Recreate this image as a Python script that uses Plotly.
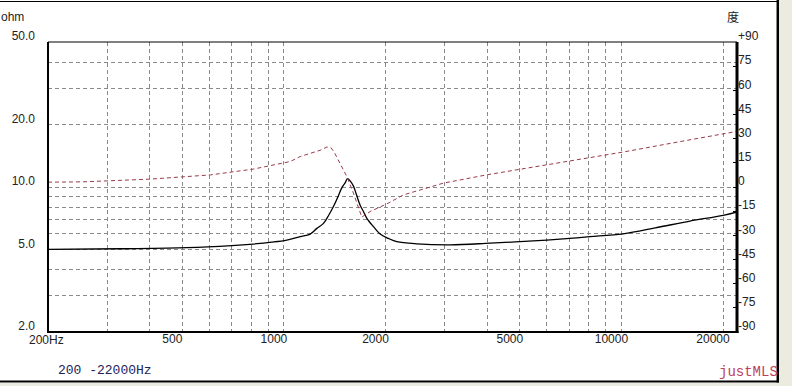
import numpy as np
import plotly.graph_objects as go

# ---- data ----
imp_freq = [200, 327, 516, 700, 811, 920, 1020, 1117, 1196, 1250, 1310, 1360, 1402, 1440, 1484,
            1520, 1543, 1575, 1607, 1640, 1682, 1720, 1761, 1842, 1928, 2040, 2160, 2476, 3108,
            4080, 5000, 6008, 7000, 8070, 10120, 12600, 15960, 20000, 22000]
imp_ohm = [5.0, 5.04, 5.10, 5.22, 5.31, 5.42, 5.55, 5.76, 5.93, 6.3, 6.68, 7.35, 8.05, 8.84, 9.9,
           10.5, 10.97, 10.65, 10.1, 9.2, 8.17, 7.62, 7.06, 6.44, 5.93, 5.65, 5.45, 5.32, 5.26,
           5.36, 5.45, 5.55, 5.65, 5.76, 5.95, 6.35, 6.85, 7.3, 7.58]

ph_freq = [200, 255, 402, 605, 811, 1044, 1117, 1200, 1280, 1340, 1380, 1410, 1467, 1536,
           1607, 1663, 1701, 1801, 2018, 2260, 2532, 2968, 3990, 6008, 8070, 10120, 15960, 22000]
ph_deg = [3.0, 3.2, 4.9, 7.5, 11.1, 15.8, 18.9, 21.2, 22.8, 24.8, 24.3, 21.5, 14.8, 6.5,
          -3.8, -13.1, -18.7, -15.2, -10.5, -4.9, -1.8, 2.4, 7.55, 13.8, 18.3, 21.7, 29.3, 34.5]

x_tick_vals = [500, 1000, 2000, 5000, 10000, 20000]
x_tick_text = ["500", "1000", "2000", "5000", "10000", "20000"]
x_minor_vals = [300, 400, 600, 700, 800, 900, 3000, 4000, 6000, 7000, 8000, 9000]

y_tick_vals = [2, 5, 10, 20, 50]
y_tick_text = ["2.0", "5.0", "10.0", "20.0", "50.0"]
y_minor_vals = [3, 4, 6, 7, 8, 9, 30, 40]

ph_tick_vals = [-90, -75, -60, -45, -30, -15, 0, 15, 30, 45, 60, 75, 90]
ph_tick_text = ["-90", "-75", "-60", "-45", "-30", "-15", "0", "15", "30", "45", "60", "75", "+90"]

# ---- layout geometry (pixels) ----
W, H = 792, 386
L, R, T, B = 48, 737, 42, 332
PW, PH = R - L, B - T


def px(X):
    return (X - L) / PW


def py(Y):
    return (B - Y) / PH


GRID = "#8a8a8a"
GDASH = "4px,3px"
LBL = dict(family="Liberation Sans, Arial, sans-serif", size=12, color="#222222")

fig = go.Figure()
fig.add_trace(go.Scatter(x=imp_freq, y=imp_ohm, mode="lines",
                         line=dict(color="black", width=1.3, shape="spline", smoothing=1.0),
                         showlegend=False, hoverinfo="skip"))
fig.add_trace(go.Scatter(x=ph_freq, y=ph_deg, mode="lines", yaxis="y2",
                         line=dict(color="#9b3a4a", width=1, dash="4px,3px"),
                         showlegend=False, hoverinfo="skip"))

fig.update_layout(
    width=W, height=H,
    margin=dict(l=L, r=W - R, t=T, b=H - B, pad=0),
    paper_bgcolor="white", plot_bgcolor="white",
    xaxis=dict(type="log", range=[np.log10(200), np.log10(22000)],
               tickvals=x_tick_vals, ticktext=x_tick_text, ticks="",
               showgrid=True, gridcolor=GRID, griddash=GDASH, gridwidth=1,
               minor=dict(tickvals=x_minor_vals, showgrid=True, gridcolor=GRID,
                          griddash=GDASH, gridwidth=1),
               tickfont=LBL, ticklabelshift=-10, ticklabelstandoff=-2,
               zeroline=False, showline=False, fixedrange=True),
    yaxis=dict(type="log", range=[np.log10(2), np.log10(50)],
               tickvals=y_tick_vals, ticktext=y_tick_text, ticks="",
               showgrid=True, gridcolor=GRID, griddash=GDASH, gridwidth=1,
               minor=dict(tickvals=y_minor_vals, showgrid=True, gridcolor=GRID,
                          griddash=GDASH, gridwidth=1),
               tickfont=LBL, ticklabelshift=-6, ticklabelstandoff=12,
               zeroline=False, showline=False, fixedrange=True),
    yaxis2=dict(overlaying="y", side="right", range=[-90, 90],
                tickvals=ph_tick_vals, ticktext=ph_tick_text,
                ticks="inside", ticklen=4, tickcolor="black", tickwidth=1,
                showgrid=False, zeroline=False, showline=False,
                tickfont=LBL, ticklabelshift=-6, ticklabelstandoff=0, fixedrange=True),
)

shapes = []
# plot borders
shapes.append(dict(type="line", xref="paper", yref="paper", x0=0, x1=1, y0=1, y1=1,
                   line=dict(color="black", width=1), layer="above"))
shapes.append(dict(type="line", xref="paper", yref="paper", x0=0, x1=0, y0=0, y1=1,
                   line=dict(color="black", width=2), layer="above"))
shapes.append(dict(type="line", xref="paper", yref="paper", x0=px(47), x1=px(738.5), y0=0, y1=0,
                   line=dict(color="black", width=2), layer="above"))
shapes.append(dict(type="line", xref="paper", yref="paper", x0=1, x1=1, y0=py(333), y1=1,
                   line=dict(color="black", width=3), layer="above"))
# outer frame
shapes.append(dict(type="line", xref="paper", yref="paper", x0=px(0), x1=px(779), y0=py(1.5), y1=py(1.5),
                   line=dict(color="black", width=1), layer="above"))
shapes.append(dict(type="line", xref="paper", yref="paper", x0=px(777.8), x1=px(777.8), y0=py(0), y1=py(382.5),
                   line=dict(color="black", width=2.5), layer="above"))
shapes.append(dict(type="line", xref="paper", yref="paper", x0=px(0), x1=px(779), y0=py(381.5), y1=py(381.5),
                   line=dict(color="black", width=2), layer="above"))
# beige surround outside frame
shapes.append(dict(type="rect", xref="paper", yref="paper", x0=px(779), x1=px(800), y0=py(-10), y1=py(400),
                   fillcolor="#ebebe0", line=dict(width=0), layer="above"))
shapes.append(dict(type="rect", xref="paper", yref="paper", x0=px(-10), x1=px(800), y0=py(400), y1=py(383),
                   fillcolor="#ebebe0", line=dict(width=0), layer="above"))
fig.update_layout(shapes=shapes)

ann = []
ann.append(dict(text="200Hz", xref="x", yref="paper", x=np.log10(200), y=0,
                xanchor="left", yanchor="top", xshift=-21, yshift=1, showarrow=False, font=LBL))
ann.append(dict(text="ohm", xref="paper", yref="paper", x=px(-1), y=py(17),
                xanchor="left", yanchor="middle", showarrow=False, font=LBL))
ann.append(dict(text="度", xref="paper", yref="paper", x=px(733), y=py(17),
                xanchor="center", yanchor="middle", showarrow=False,
                font=dict(family="Noto Sans CJK SC", size=12, color="#222222")))
ann.append(dict(text="200 -22000Hz", xref="paper", yref="paper", x=px(56), y=py(370),
                xanchor="left", yanchor="middle", showarrow=False,
                font=dict(family="Liberation Mono, monospace", size=13, color="#22225a")))
ann.append(dict(text="justMLS", xref="paper", yref="paper", x=px(717), y=py(372),
                xanchor="left", yanchor="middle", showarrow=False,
                font=dict(family="Liberation Mono, monospace", size=14, color="#c0405a")))
fig.update_layout(annotations=ann)

fig.write_html("out.html")
